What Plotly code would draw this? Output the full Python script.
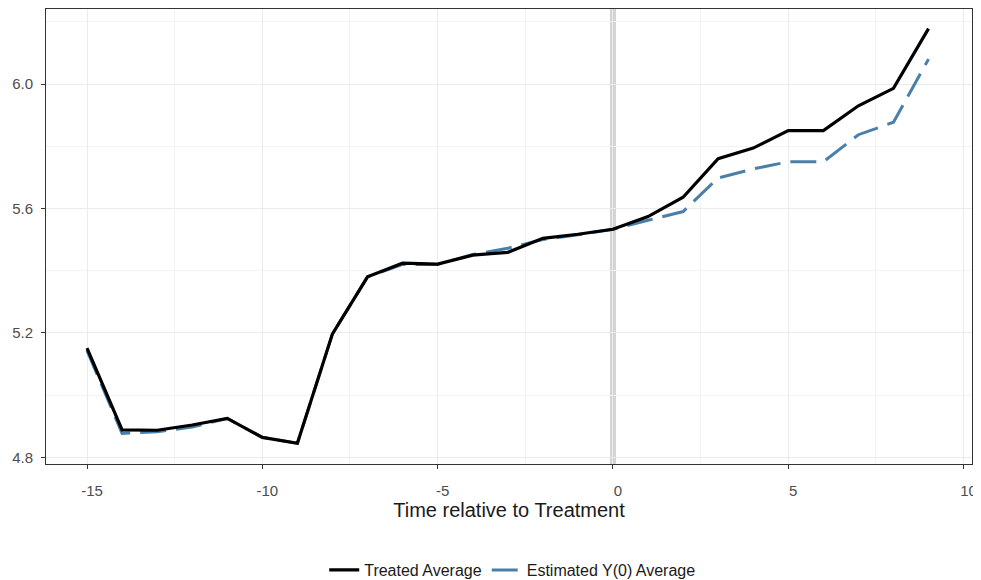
import plotly.graph_objects as go

time = [-15, -14, -13, -12, -11, -10, -9, -8, -7, -6, -5, -4, -3, -2, -1, 0,
        1, 2, 3, 4, 5, 6, 7, 8, 9]
treated = [5.151, 4.888, 4.887, 4.904, 4.925, 4.864, 4.845, 5.197, 5.380, 5.424,
           5.421, 5.450, 5.459, 5.504, 5.517, 5.533,
           5.574, 5.636, 5.760, 5.794, 5.850, 5.850, 5.930, 5.986, 6.178]
estimated = [5.143, 4.877, 4.882, 4.897, 4.925, 4.864, 4.845, 5.197, 5.380, 5.420,
             5.420, 5.452, 5.472, 5.500, 5.515, 5.533,
             5.562, 5.590, 5.698, 5.727, 5.750, 5.750, 5.837, 5.877, 6.080]
x_ticks = [-15, -10, -5, 0, 5, 10]
x_tick_labels = ["-15", "-10", "-5", "0", "5", "10"]
y_ticks = [4.8, 5.2, 5.6, 6.0]
y_tick_labels = ["4.8", "5.2", "5.6", "6.0"]
treatment_time = 0

FONT = "Liberation Sans, Arial, sans-serif"

fig = go.Figure()
fig.add_trace(go.Scatter(
    x=time, y=estimated, mode="lines", name="Estimated Y(0) Average",
    line=dict(color="#4a7fa9", width=3, dash="26px,10px"),
))
fig.add_trace(go.Scatter(
    x=time, y=treated, mode="lines", name="Treated Average",
    line=dict(color="#000000", width=3.2),
))

fig.add_vline(x=treatment_time, line=dict(color="#d4d4d4", width=6), layer="below")

# the page body has an 8px default margin, so offsets compensate for it
fig.update_layout(
    width=981, height=580,
    margin=dict(l=38, r=17, t=1, b=122),
    paper_bgcolor="white", plot_bgcolor="white",
    font=dict(family=FONT, color="#4d4d4d"),
    showlegend=True,
    legend=dict(
        orientation="h", x=0.504, xanchor="center", y=-0.233, yanchor="middle",
        font=dict(size=16, color="#1a1a1a", family=FONT),
        traceorder="reversed", itemwidth=30,
    ),
)
fig.update_xaxes(
    range=[-16.17, 10.24], tickvals=x_ticks, ticktext=x_tick_labels,
    automargin=False,
    showgrid=True, gridcolor="#ebebeb", gridwidth=1,
    minor=dict(dtick=2.5, tick0=0, showgrid=True, gridcolor="#f3f3f3", gridwidth=1),
    zeroline=False, showline=True, linecolor="#333333", linewidth=1, mirror=True,
    ticks="outside", ticklen=4, tickcolor="#333333",
    tickfont=dict(size=15, color="#4d4d4d"), ticklabelshift=5, ticklabelstandoff=9,
    title=dict(text="Time relative to Treatment", font=dict(size=20, color="#1a1a1a"), standoff=4),
)
fig.update_yaxes(
    range=[4.7785, 6.2411], tickvals=y_ticks, ticktext=y_tick_labels,
    automargin=False,
    showgrid=True, gridcolor="#ebebeb", gridwidth=1,
    minor=dict(dtick=0.2, tick0=4.8, showgrid=True, gridcolor="#f3f3f3", gridwidth=1),
    zeroline=False, showline=True, linecolor="#333333", linewidth=1, mirror=True,
    ticks="outside", ticklen=4, tickcolor="#333333",
    tickfont=dict(size=15, color="#4d4d4d"), ticklabelstandoff=5,
)

fig.write_html("out.html")
